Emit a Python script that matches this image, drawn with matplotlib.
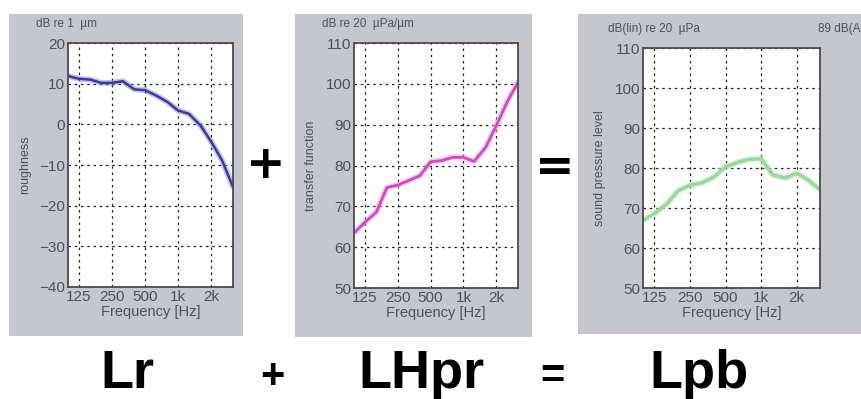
import matplotlib
matplotlib.use('Agg')
import matplotlib.pyplot as plt
from matplotlib.patches import Rectangle

# 1/3 octave band centre frequencies
freqs = [100, 125, 160, 200, 250, 315, 400, 500, 630, 800, 1000, 1250, 1600, 2000, 2500, 3150]

roughness = [11.9, 11.2, 11.0, 10.2, 10.2, 10.6, 8.6, 8.4, 7.1, 5.5, 3.4, 2.6, -0.3, -4.3, -8.8, -15.4]
transfer = [63.5, 66.0, 68.6, 74.6, 75.2, 76.3, 77.5, 80.9, 81.2, 82.0, 82.0, 81.0, 84.5, 89.8, 95.5, 100.4]
spl = [66.9, 68.6, 71.1, 74.4, 75.7, 76.3, 77.8, 80.3, 81.4, 82.2, 82.3, 78.3, 77.5, 78.7, 77.0, 74.6]

xticks = [125, 250, 500, 1000, 2000]
xticklabels = ['125', '250', '500', '1k', '2k']

W, H = 861, 399
fig = plt.figure(figsize=(W / 100, H / 100), dpi=100)
fig.patch.set_facecolor('white')

GRAY = '#c5c7cd'
TXT = '#4f4f5a'
FONT = 'Liberation Sans'


def px_rect(x0, y0, x1, y1):
    # pixel box (top-left origin) -> figure fraction [l, b, w, h]
    return [x0 / W, (H - y1) / H, (x1 - x0) / W, (y1 - y0) / H]


def panel(bg, box, ylim, yticks, ylabel, unit, y, color, lw, halo):
    l, b, w, h = px_rect(*bg)
    fig.patches.append(Rectangle((l, b), w, h, transform=fig.transFigure,
                                 facecolor=GRAY, edgecolor='none', zorder=-10))
    ax = fig.add_axes(px_rect(*box))
    ax.set_zorder(1)
    ax.set_facecolor('white')
    ax.set_xscale('log')
    ax.set_xlim(100, 3150)
    ax.set_ylim(*ylim)
    ax.set_xticks(xticks)
    ax.set_xticklabels(xticklabels)
    ax.minorticks_off()
    ax.set_yticks(yticks)
    ax.grid(True, color='#222222', linestyle=(0, (2, 3)), linewidth=0.9)
    ax.tick_params(length=0, labelsize=11, colors=TXT, pad=2)
    for lab in ax.get_xticklabels() + ax.get_yticklabels():
        lab.set_family(FONT)
    for s in ax.spines.values():
        s.set_color('#4a4a52')
        s.set_linewidth(1.3)
    ax.set_xlabel('Frequency [Hz]', fontsize=10.5, color=TXT, family=FONT, labelpad=1)
    ax.set_ylabel(ylabel, fontsize=9, color=TXT, family=FONT, labelpad=6)
    ax.plot(freqs, y, color=halo, linewidth=lw + 2.5, alpha=0.5, solid_capstyle='round')
    ax.plot(freqs, y, color=color, linewidth=lw, solid_capstyle='round')
    return ax


ax1 = panel((9, 14, 243, 336), (68, 43, 233, 287), (-40, 20), range(-40, 21, 10),
            'roughness', None, roughness, '#3a3a9e', 1.8, '#9090d0')
ax2 = panel((295, 14, 532, 337), (354, 43, 518, 288), (50, 110), range(50, 111, 10),
            'transfer function', None, transfer, '#cc4cc0', 2.0, '#eaa0e4')
ax3 = panel((578, 14, 861, 334), (643, 48, 820, 288), (50, 110), range(50, 111, 10),
            'sound pressure level', None, spl, '#9ad89c', 2.6, '#c8eec8')

# unit captions above each plot
cap = dict(fontsize=8.5, color=TXT, family=FONT, va='center', ha='left')
fig.text(36 / W, 1 - 24 / H, 'dB re 1  \u00b5m', **cap)
fig.text(322 / W, 1 - 24 / H, 'dB re 20  \u00b5Pa/\u00b5m', **cap)
fig.text(608 / W, 1 - 29 / H, 'dB(lin) re 20  \u00b5Pa', **cap)
fig.text(818 / W, 1 - 29 / H, '89 dB(A', **cap)

# operators between panels
fig.text(266 / W, 1 - 166 / H, '+', fontsize=34, fontweight='bold', ha='center', va='center',
         family='DejaVu Sans')
fig.text(555 / W, 1 - 168 / H, '=', fontsize=34, fontweight='bold', ha='center', va='center',
         family='DejaVu Sans')

# bottom equation
big = dict(fontsize=39, fontweight='bold', ha='center', va='baseline',
           family='Liberation Sans')
base = 1 - 388 / H
fig.text(127 / W, base, 'Lr', **big)
fig.text(272 / W, base, '+', fontsize=30, fontweight='bold', ha='center', va='baseline',
         family='Liberation Sans')
fig.text(421 / W, base, 'LHpr', **big)
fig.text(552 / W, base, '=', fontsize=30, fontweight='bold', ha='center', va='baseline',
         family='Liberation Sans')
fig.text(699 / W, base, 'Lpb', **big)

fig.savefig('out.png', dpi=100)
